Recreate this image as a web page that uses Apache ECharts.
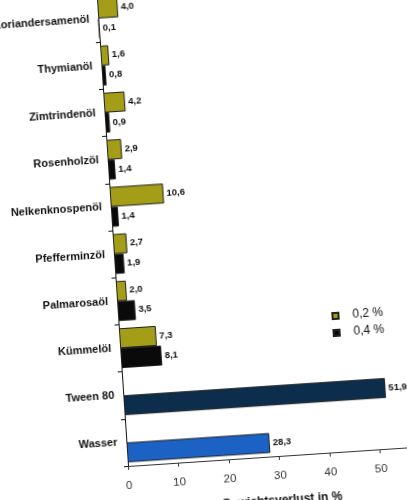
<!DOCTYPE html>
<html>
<head>
<meta charset="utf-8">
<script src="https://cdn.jsdelivr.net/npm/echarts@6/dist/echarts.min.js"></script>
<style>
  html, body { margin: 0; padding: 0; background: #fff; overflow: hidden; width: 407px; height: 500px; }
  /* the reference is a slightly tilted photo of the chart */
  #chart {
    position: absolute; left: 0; top: -20px;
    width: 480px; height: 560px;
    transform: rotate(-3.8deg);
    transform-origin: 128px 486px;
  }
</style>
</head>
<body>
<div id="chart"></div>
<script>
// data, top to bottom
const categories = ['Koriandersamenöl', 'Thymianöl', 'Zimtrindenöl', 'Rosenholzöl', 'Nelkenknospenöl',
  'Pfefferminzöl', 'Palmarosaöl', 'Kümmelöl', 'Tween 80', 'Wasser'];
const conc02 = [4.0, 1.6, 4.2, 2.9, 10.6, 2.7, 2.0, 7.3, null, null];
const conc04 = [0.1, 0.8, 0.9, 1.4, 1.4, 1.9, 3.5, 8.1, 51.9, 28.3];
const xTicks = [0, 10, 20, 30, 40, 50, 60];

// controls get their own colours
const controlColors = { 'Tween 80': '#0c2d4c', 'Wasser': '#1c62c4' };

const fmt = v => v.toFixed(1).replace('.', ',');

const labelStyle = {
  show: true,
  position: 'right',
  distance: 3,
  fontFamily: 'Liberation Sans, Arial, sans-serif',
  fontWeight: 'bold',
  fontSize: 9.5,
  color: '#111',
  formatter: p => fmt(p.value)
};

const chart = echarts.init(document.getElementById('chart'));

chart.setOption({
  backgroundColor: '#fff',
  animation: false,
  legend: {
    orient: 'vertical',
    left: 341,
    top: 344,
    padding: 0,
    itemWidth: 6,
    itemHeight: 6,
    itemGap: 5,
    icon: 'rect',
    textStyle: {
      fontFamily: 'Liberation Sans, Arial, sans-serif',
      fontSize: 12,
      color: '#111',
      padding: [0, 0, 0, 9]
    },
    data: ['0,2 %', '0,4 %']
  },
  grid: { left: 128, top: 14, height: 472, right: 49 },
  xAxis: {
    type: 'value',
    min: xTicks[0],
    max: xTicks[xTicks.length - 1],
    interval: 10,
    name: 'Gewichtsverlust in %',
    nameLocation: 'middle',
    nameGap: 39,
    nameTextStyle: {
      fontFamily: 'Liberation Sans, Arial, sans-serif',
      fontWeight: 'bold',
      fontSize: 12,
      color: '#111'
    },
    axisLine: { show: true, lineStyle: { color: '#333', width: 1 } },
    axisTick: { show: true, length: 4, lineStyle: { color: '#333' } },
    axisLabel: {
      margin: 14,
      fontFamily: 'Liberation Sans, Arial, sans-serif',
      fontSize: 11.5,
      color: '#333'
    },
    splitLine: { show: false }
  },
  yAxis: {
    type: 'category',
    inverse: true,
    data: categories,
    axisLine: { show: true, lineStyle: { color: '#111', width: 1 } },
    axisTick: { show: true, length: 4, lineStyle: { color: '#111' } },
    axisLabel: {
      margin: 9,
      padding: [4, 0, 0, 0],
      fontFamily: 'Liberation Sans, Arial, sans-serif',
      fontWeight: 'bold',
      fontSize: 11,
      color: '#111'
    }
  },
  series: [
    {
      name: '0,2 %',
      type: 'bar',
      data: conc02,
      barWidth: 20,
      barGap: '0%',
      itemStyle: { color: '#a39d17', borderColor: '#222', borderWidth: 1 },
      label: labelStyle
    },
    {
      name: '0,4 %',
      type: 'bar',
      data: conc04.map((v, i) => controlColors[categories[i]]
        ? { value: v, itemStyle: { color: controlColors[categories[i]] } }
        : v),
      barWidth: 20,
      barGap: '0%',
      itemStyle: { color: '#0a0a0a', borderColor: '#222', borderWidth: 1 },
      label: labelStyle
    }
  ]
});
</script>
</body>
</html>
